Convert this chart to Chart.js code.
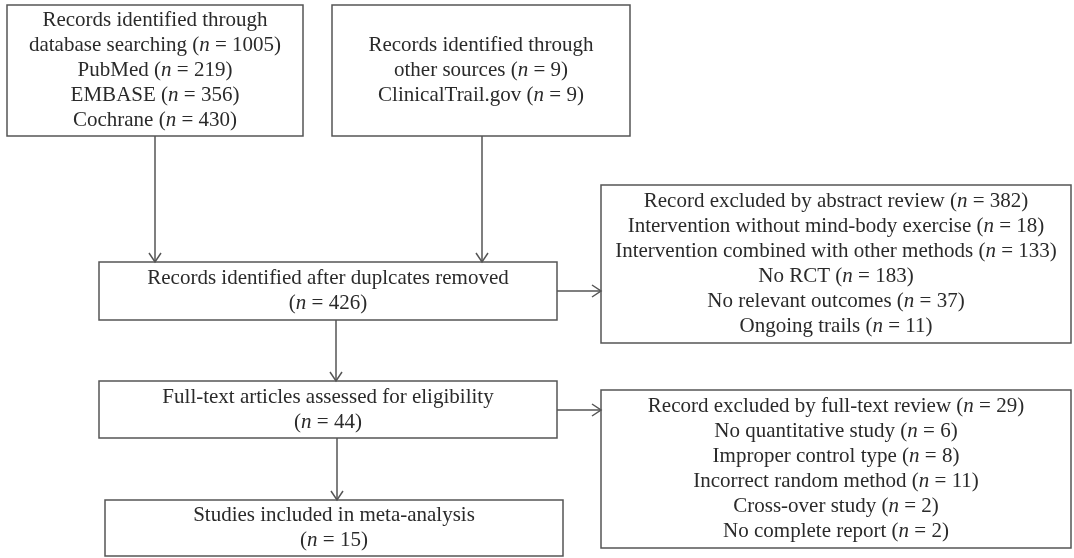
<!DOCTYPE html>
<html>
<head>
<meta charset="utf-8">
<script src="https://cdn.jsdelivr.net/npm/chart.js@4/dist/chart.umd.min.js"></script>
<style>
  html, body { margin: 0; padding: 0; background: #ffffff; }
  #wrap { width: 1074px; height: 558px; }
</style>
</head>
<body>
<div id="wrap"><canvas id="c" width="1074" height="558"></canvas></div>
<script>
// ---------------- DATA ----------------
const databaseTotal = 1005;
const databaseSources = ["PubMed", "EMBASE", "Cochrane"];
const databaseCounts = [219, 356, 430];

const otherTotal = 9;
const otherSources = ["ClinicalTrail.gov"];
const otherCounts = [9];

const afterDuplicatesCount = 426;

const abstractExcludedTotal = 382;
const abstractReasons = [
  "Intervention without mind-body exercise",
  "Intervention combined with other methods",
  "No RCT",
  "No relevant outcomes",
  "Ongoing trails"
];
const abstractCounts = [18, 133, 183, 37, 11];

const fullTextAssessedCount = 44;

const fullTextExcludedTotal = 29;
const fullTextReasons = [
  "No quantitative study",
  "Improper control type",
  "Incorrect random method",
  "Cross-over study",
  "No complete report"
];
const fullTextCounts = [6, 8, 11, 2, 2];

const includedCount = 15;

// ---------------- TEXT BUILDING ----------------
function nLine(prefix, n) {
  const segs = [];
  segs.push({ t: (prefix ? prefix + " " : "") + "(" });
  segs.push({ t: "n", i: true });
  segs.push({ t: " = " + n + ")" });
  return segs;
}
function plain(t) { return [{ t: t }]; }

const box1Lines = [plain("Records identified through"), nLine("database searching", databaseTotal)]
  .concat(databaseSources.map((s, k) => nLine(s, databaseCounts[k])));
const box2Lines = [plain("Records identified through"), nLine("other sources", otherTotal)]
  .concat(otherSources.map((s, k) => nLine(s, otherCounts[k])));
const box3Lines = [plain("Records identified after duplcates removed"), nLine("", afterDuplicatesCount)];
const box4Lines = [nLine("Record excluded by abstract review", abstractExcludedTotal)]
  .concat(abstractReasons.map((s, k) => nLine(s, abstractCounts[k])));
const box5Lines = [plain("Full-text articles assessed for eligibility"), nLine("", fullTextAssessedCount)];
const box6Lines = [nLine("Record excluded by full-text review", fullTextExcludedTotal)]
  .concat(fullTextReasons.map((s, k) => nLine(s, fullTextCounts[k])));
const box7Lines = [plain("Studies included in meta-analysis"), nLine("", includedCount)];

// ---------------- LAYOUT (diagram units on hidden linear scales) ----------------
const layout = {
  boxes: [
    { x0: 7,   x1: 303,  y0: 5,   y1: 136, lines: box1Lines },
    { x0: 332, x1: 630,  y0: 5,   y1: 136, lines: box2Lines },
    { x0: 99,  x1: 557,  y0: 262, y1: 320, lines: box3Lines },
    { x0: 601, x1: 1071, y0: 185, y1: 343, lines: box4Lines },
    { x0: 99,  x1: 557,  y0: 381, y1: 438, lines: box5Lines },
    { x0: 601, x1: 1071, y0: 390, y1: 548, lines: box6Lines },
    { x0: 105, x1: 563,  y0: 500, y1: 556, lines: box7Lines }
  ],
  arrows: [
    { x0: 155, y0: 136, x1: 155, y1: 262 },
    { x0: 482, y0: 136, x1: 482, y1: 262 },
    { x0: 557, y0: 291, x1: 601, y1: 291 },
    { x0: 336, y0: 320, x1: 336, y1: 381 },
    { x0: 557, y0: 410, x1: 601, y1: 410 },
    { x0: 337, y0: 438, x1: 337, y1: 500 }
  ],
  lineGap: 25
};

const style = {
  font: "21px 'Liberation Serif', 'DejaVu Serif', serif",
  italicFont: "italic 21px 'Liberation Serif', 'DejaVu Serif', serif",
  text: "#2a2a2a",
  stroke: "#555555",
  lineWidth: 1.5,
  headLen: 9,
  headHalf: 6
};

// ---------------- DRAW PLUGIN ----------------
const flowPlugin = {
  id: "flow",
  afterDraw(chart) {
    const ctx = chart.ctx;
    const sx = chart.scales.x, sy = chart.scales.y;
    const X = v => sx.getPixelForValue(v);
    const Y = v => sy.getPixelForValue(v);
    ctx.save();
    ctx.strokeStyle = style.stroke;
    ctx.lineWidth = style.lineWidth;

    layout.boxes.forEach(b => {
      const px0 = X(b.x0), px1 = X(b.x1), py0 = Y(b.y0), py1 = Y(b.y1);
      ctx.strokeRect(px0, py0, px1 - px0, py1 - py0);
      const cx = (px0 + px1) / 2;
      const cy = (py0 + py1) / 2;
      const n = b.lines.length;
      ctx.fillStyle = style.text;
      ctx.textBaseline = "middle";
      ctx.textAlign = "left";
      b.lines.forEach((segs, k) => {
        const y = cy + (k - (n - 1) / 2) * layout.lineGap;
        let w = 0;
        segs.forEach(s => { ctx.font = s.i ? style.italicFont : style.font; s.w = ctx.measureText(s.t).width; w += s.w; });
        let x = cx - w / 2;
        segs.forEach(s => { ctx.font = s.i ? style.italicFont : style.font; ctx.fillText(s.t, x, y); x += s.w; });
      });
    });

    layout.arrows.forEach(a => {
      const x0 = X(a.x0), y0 = Y(a.y0), x1 = X(a.x1), y1 = Y(a.y1);
      ctx.beginPath();
      ctx.moveTo(x0, y0); ctx.lineTo(x1, y1); ctx.stroke();
      const ang = Math.atan2(y1 - y0, x1 - x0);
      const bx = x1 - style.headLen * Math.cos(ang), by = y1 - style.headLen * Math.sin(ang);
      const nx = -Math.sin(ang) * style.headHalf, ny = Math.cos(ang) * style.headHalf;
      ctx.beginPath();
      ctx.moveTo(bx + nx, by + ny); ctx.lineTo(x1, y1); ctx.lineTo(bx - nx, by - ny);
      ctx.stroke();
    });
    ctx.restore();
  }
};

new Chart(document.getElementById("c"), {
  type: "scatter",
  data: { datasets: [{ data: [], pointRadius: 0 }] },
  options: {
    responsive: false,
    animation: false,
    layout: { padding: 0 },
    plugins: { legend: { display: false }, tooltip: { enabled: false } },
    scales: {
      x: { type: "linear", min: 0, max: 1074, display: false },
      y: { type: "linear", min: 0, max: 558, reverse: true, display: false }
    }
  },
  plugins: [flowPlugin]
});
</script>
</body>
</html>
